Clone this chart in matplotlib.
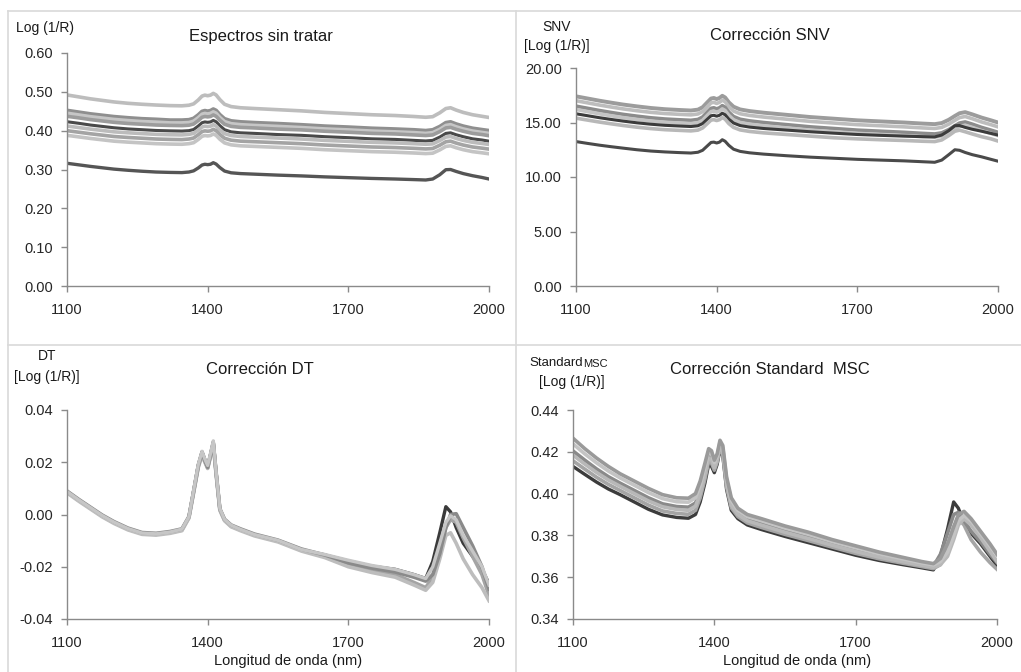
import matplotlib
matplotlib.use("Agg")
import matplotlib.pyplot as plt
from matplotlib.lines import Line2D

plt.rcParams['font.family'] = ['Liberation Sans', 'DejaVu Sans']

W, H = 1021, 672

# wavelength grid (nm)
wl = [1100, 1125, 1150, 1175, 1200, 1230, 1260, 1290, 1320, 1345,
      1360, 1370, 1380, 1388, 1394, 1400, 1406, 1412, 1418, 1426,
      1436, 1450, 1470, 1500, 1550, 1600, 1650, 1700, 1750, 1800,
      1840, 1865, 1880, 1895, 1908, 1918, 1930, 1945, 1965, 1985,
      2000]

# ---- Espectros sin tratar -------------------------------------------------
raw_1 = [.492, .487, .482, .478, .474, .4705, .468, .466, .4645, .464,
         .4655, .469, .479, .489, .4915, .490, .4915, .496, .492, .480,
         .468, .462, .459, .457, .454, .451, .447, .444, .441, .439,
         .4365, .4345, .436, .446, .457, .459, .453, .447, .441, .437,
         .434]
raw_2 = [.452, .4475, .443, .4395, .436, .433, .4305, .429, .427, .427,
         .428, .4315, .4405, .4495, .4515, .450, .4515, .4555, .452, .441,
         .4305, .425, .4225, .4205, .418, .415, .4115, .409, .406, .404,
         .402, .400, .402, .4105, .4205, .4225, .417, .4115, .406, .4025,
         .400]
raw_3 = [.445, .4405, .436, .4325, .429, .426, .4235, .422, .420, .420,
         .421, .4245, .4335, .4425, .4445, .443, .4445, .4485, .445, .434,
         .4235, .418, .4155, .4135, .411, .408, .4045, .402, .399, .397,
         .395, .393, .395, .4035, .4135, .4155, .410, .4045, .399, .3955,
         .393]
raw_4 = [.437, .433, .4285, .425, .4215, .4185, .4165, .4145, .4135, .413,
         .414, .417, .426, .4345, .4365, .4355, .4365, .4405, .437, .427,
         .4165, .411, .4085, .407, .404, .402, .3985, .396, .393, .3915,
         .389, .3875, .389, .3975, .407, .4085, .4035, .3985, .393, .390,
         .387]
raw_5 = [.423, .419, .4145, .411, .4075, .4045, .4025, .4005, .3995, .399,
         .400, .403, .412, .4205, .4225, .4215, .4225, .4265, .423, .413,
         .4025, .397, .3945, .393, .390, .388, .3845, .382, .379, .3775,
         .375, .3735, .375, .3835, .393, .3945, .3895, .3845, .379, .376,
         .373]
raw_6 = [.412, .408, .404, .4005, .397, .3945, .3925, .3905, .3895, .389,
         .3905, .393, .4015, .4095, .4115, .4105, .4115, .4155, .412, .402,
         .3925, .3875, .385, .3835, .381, .3785, .375, .3725, .370, .3685,
         .3665, .365, .366, .3745, .3835, .385, .380, .375, .370, .367,
         .3645]
raw_7 = [.400, .396, .392, .3885, .385, .3825, .3805, .3785, .3775, .377,
         .3785, .381, .3895, .3975, .3995, .3985, .3995, .4035, .400, .390,
         .3805, .3755, .373, .3715, .369, .3665, .363, .3605, .358, .3565,
         .3545, .353, .354, .3625, .3715, .373, .368, .363, .358, .355,
         .3525]
raw_8 = [.388, .384, .380, .3765, .373, .3705, .3685, .3665, .3655, .365,
         .3665, .369, .3775, .3855, .3875, .3865, .3875, .3915, .388, .378,
         .3685, .3635, .361, .3595, .357, .3545, .351, .3485, .346, .3445,
         .3425, .341, .342, .3505, .3595, .361, .356, .351, .346, .343,
         .3405]
raw_9 = [.316, .312, .308, .3045, .301, .298, .2955, .2935, .2925, .292,
         .2935, .2965, .304, .3115, .3135, .3125, .3135, .3175, .314, .305,
         .296, .2915, .2895, .288, .2855, .2835, .281, .279, .277, .2755,
         .274, .273, .2755, .2865, .2995, .300, .295, .2895, .284, .2795,
         .2755]

# ---- Correccion SNV -------------------------------------------------------
snv_1 = [17.4, 17.2, 17.0, 16.82, 16.65, 16.48, 16.33, 16.22, 16.15, 16.1,
         16.18, 16.4, 16.85, 17.2, 17.25, 17.15, 17.25, 17.45, 17.3, 16.85,
         16.45, 16.2, 16.05, 15.9, 15.7, 15.5, 15.35, 15.2, 15.1, 15.0,
         14.9, 14.85, 14.95, 15.25, 15.6, 15.85, 15.95, 15.75, 15.45, 15.2,
         15.0]
snv_2 = [17.0, 16.8, 16.6, 16.42, 16.25, 16.08, 15.93, 15.82, 15.75, 15.7,
         15.78, 16.0, 16.45, 16.8, 16.85, 16.75, 16.85, 17.05, 16.9, 16.45,
         16.05, 15.8, 15.65, 15.5, 15.3, 15.1, 14.95, 14.8, 14.7, 14.6,
         14.5, 14.45, 14.55, 14.85, 15.2, 15.45, 15.55, 15.35, 15.05, 14.8,
         14.6]
snv_3 = [16.5, 16.3, 16.1, 15.92, 15.75, 15.58, 15.43, 15.32, 15.25, 15.2,
         15.28, 15.5, 15.95, 16.3, 16.35, 16.25, 16.35, 16.55, 16.4, 15.95,
         15.55, 15.3, 15.15, 15.0, 14.8, 14.6, 14.45, 14.3, 14.2, 14.1,
         14.0, 13.95, 14.05, 14.35, 14.7, 14.95, 15.05, 14.85, 14.55, 14.3,
         14.1]
snv_4 = [16.2, 16.0, 15.8, 15.62, 15.45, 15.28, 15.13, 15.02, 14.95, 14.9,
         14.98, 15.2, 15.65, 16.0, 16.05, 15.95, 16.05, 16.25, 16.1, 15.65,
         15.25, 15.0, 14.85, 14.7, 14.5, 14.3, 14.15, 14.0, 13.9, 13.8,
         13.7, 13.65, 13.75, 14.05, 14.4, 14.65, 14.75, 14.55, 14.25, 14.0,
         13.8]
snv_5 = [15.8, 15.62, 15.44, 15.28, 15.13, 14.97, 14.84, 14.74, 14.68, 14.63,
         14.7, 14.9, 15.3, 15.62, 15.66, 15.58, 15.66, 15.85, 15.71, 15.3,
         14.95, 14.72, 14.58, 14.45, 14.3, 14.15, 14.02, 13.9, 13.82, 13.75,
         13.7, 13.68, 13.85, 14.25, 14.7, 14.72, 14.55, 14.38, 14.2, 14.0,
         13.85]
snv_6 = [15.4, 15.22, 15.04, 14.88, 14.73, 14.57, 14.44, 14.34, 14.28, 14.23,
         14.3, 14.5, 14.9, 15.22, 15.26, 15.18, 15.26, 15.45, 15.31, 14.9,
         14.55, 14.32, 14.18, 14.05, 13.9, 13.75, 13.6, 13.5, 13.42, 13.35,
         13.28, 13.25, 13.4, 13.8, 14.2, 14.3, 14.15, 13.95, 13.7, 13.5,
         13.3]
snv_7 = [13.25, 13.08, 12.92, 12.78, 12.65, 12.5, 12.38, 12.3, 12.24, 12.2,
         12.27, 12.45, 12.85, 13.17, 13.2, 13.12, 13.2, 13.42, 13.28, 12.9,
         12.55, 12.35, 12.22, 12.1, 11.95, 11.82, 11.72, 11.62, 11.55, 11.48,
         11.4, 11.35, 11.55, 12.05, 12.5, 12.45, 12.25, 12.05, 11.85, 11.62,
         11.45]

# ---- Correccion DT --------------------------------------------------------
dt_1 = [.0087, .0055, .0025, -.0005, -.0030, -.0055, -.0072, -.0075, -.0068, -.0058,
        -.0010, .0090, .0190, .0240, .0210, .0185, .0230, .0278, .0160, .0020,
        -.0020, -.0043, -.0058, -.0078, -.0100, -.0135, -.0155, -.0178, -.0198, -.0210,
        -.0230, -.0245, -.0180, -.0070, .0030, .0010, -.0050, -.0110, -.0160, -.0210,
        -.0265]
dt_2 = [.0090, .0058, .0028, -.0002, -.0027, -.0052, -.0069, -.0072, -.0065, -.0055,
        -.0008, .0088, .0186, .0236, .0206, .0180, .0226, .0274, .0162, .0022,
        -.0018, -.0040, -.0055, -.0075, -.0098, -.0132, -.0155, -.0185, -.0205, -.0220,
        -.0240, -.0255, -.0230, -.0150, -.0050, .0000, .0003, -.0050, -.0120, -.0200,
        -.0285]
dt_3 = [.0083, .0051, .0021, -.0009, -.0034, -.0059, -.0076, -.0079, -.0072, -.0062,
        -.0014, .0082, .0180, .0226, .0200, .0176, .0220, .0266, .0154, .0016,
        -.0024, -.0047, -.0062, -.0082, -.0105, -.0140, -.0165, -.0200, -.0222, -.0240,
        -.0270, -.0290, -.0260, -.0170, -.0080, -.0070, -.0110, -.0170, -.0230, -.0280,
        -.0330]
dt_4 = [.0086, .0054, .0024, -.0006, -.0031, -.0056, -.0073, -.0076, -.0069, -.0060,
        -.0012, .0086, .0184, .0232, .0203, .0178, .0224, .0270, .0157, .0018,
        -.0022, -.0045, -.0059, -.0079, -.0102, -.0137, -.0160, -.0192, -.0212, -.0230,
        -.0260, -.0280, -.0240, -.0140, -.0050, -.0020, -.0030, -.0090, -.0160, -.0230,
        -.0310]
dt_5 = [.0088, .0056, .0026, -.0004, -.0029, -.0054, -.0071, -.0074, -.0067, -.0056,
        -.0009, .0092, .0192, .0242, .0212, .0188, .0233, .0282, .0163, .0023,
        -.0019, -.0041, -.0057, -.0077, -.0099, -.0134, -.0153, -.0175, -.0195, -.0210,
        -.0230, -.0245, -.0200, -.0110, -.0030, -.0005, -.0020, -.0080, -.0140, -.0200,
        -.0270]

# ---- Correccion Standard MSC ----------------------------------------------
msc_1 = [.4265, .4215, .417, .413, .4095, .406, .4025, .3995, .398, .3978,
         .400, .406, .4145, .4215, .4205, .416, .419, .4255, .423, .408,
         .398, .393, .390, .388, .3845, .3815, .378, .375, .372, .3695,
         .3675, .3665, .369, .376, .384, .390, .3915, .388, .382, .376,
         .371]
msc_2 = [.4238, .4190, .4147, .4108, .4075, .404, .4005, .3976, .3961, .3959,
         .398, .404, .4126, .4200, .4190, .4148, .418, .4246, .422, .4068,
         .3968, .392, .389, .3870, .3835, .3805, .3771, .3741, .3712, .3688,
         .3669, .3659, .3675, .372, .380, .387, .3895, .387, .381, .375,
         .3705]
msc_3 = [.4204, .4160, .4118, .4081, .4050, .4015, .3980, .3951, .3938, .3935,
         .3955, .4015, .4102, .4181, .4171, .4133, .4168, .4235, .4208, .4053,
         .3953, .3908, .3878, .3857, .3823, .3793, .3760, .3730, .3702, .3679,
         .3662, .3652, .371, .381, .390, .391, .387, .382, .377, .371,
         .367]
msc_4 = [.413, .4092, .4055, .4022, .3995, .396, .3925, .3898, .3886, .3882,
         .390, .396, .405, .414, .413, .410, .414, .421, .418, .402,
         .392, .388, .385, .3828, .3795, .3765, .3735, .3705, .368, .366,
         .3645, .3635, .370, .383, .396, .393, .386, .381, .376, .370,
         .3655]
msc_5 = [.4184, .4141, .4101, .4065, .4035, .400, .3965, .3937, .3924, .3920,
         .394, .400, .4088, .417, .416, .4124, .416, .4228, .420, .4044,
         .3944, .390, .387, .3849, .3815, .3785, .3753, .3723, .3696, .3674,
         .3657, .3647, .366, .370, .378, .385, .388, .385, .379, .3725,
         .3675]
msc_6 = [.4157, .4117, .4078, .4044, .4015, .398, .3945, .3917, .3905, .3901,
         .392, .398, .4069, .4155, .4145, .4112, .415, .4219, .419, .4032,
         .3932, .389, .386, .3838, .3805, .3775, .3744, .3714, .3688, .3667,
         .3651, .3641, .366, .374, .384, .388, .385, .378, .372, .367,
         .3638]

xticks = [1100, 1400, 1700, 2000]


def px(x0, y0, x1, y1):
    # axes rect from pixel corners (top-left origin)
    return [x0 / W, 1 - y1 / H, (x1 - x0) / W, (y1 - y0) / H]


def style(ax, ylim, yticks, fmt):
    ax.set_xlim(1100, 2000)
    ax.set_ylim(*ylim)
    ax.set_xticks(xticks)
    ax.set_yticks(yticks)
    ax.set_yticklabels([fmt % v for v in yticks])
    for s in ['top', 'right']:
        ax.spines[s].set_visible(False)
    for s in ['left', 'bottom']:
        ax.spines[s].set_color('#8a8a8a')
        ax.spines[s].set_linewidth(1.0)
    ax.tick_params(axis='both', colors='#8a8a8a', labelcolor='#262626',
                   labelsize=10.5, length=4, width=1, direction='out')
    ax.tick_params(axis='x', pad=8)
    ax.tick_params(axis='y', pad=6)


def ftext(x, y, s, **kw):
    fig.text(x / W, 1 - y / H, s, color='#1a1a1a', **kw)


fig = plt.figure(figsize=(W / 100, H / 100), dpi=100)

# panel frames
for (xa, ya, xb, yb) in [(8, 11, W, 11), (8, 11, 8, H), (8, 345, W, 345),
                         (516, 11, 516, H)]:
    fig.add_artist(Line2D([xa / W, xb / W], [1 - ya / H, 1 - yb / H],
                          color='#d9d9d9', lw=1.2))

ax1 = fig.add_axes(px(67, 53, 489, 286))
raw = [(raw_1, '#bdbdbd', 2.6), (raw_2, '#8f8f8f', 2.8), (raw_3, '#c6c6c6', 2.6),
       (raw_4, '#9c9c9c', 2.6), (raw_5, '#4a4a4a', 2.2), (raw_6, '#bcbcbc', 2.6),
       (raw_7, '#a4a4a4', 2.6), (raw_8, '#c4c4c4', 2.6), (raw_9, '#555555', 2.4)]
for y, c, lw in raw:
    ax1.plot(wl, y, color=c, lw=lw)
style(ax1, (0, 0.6), [0, .1, .2, .3, .4, .5, .6], '%.2f')

ax2 = fig.add_axes(px(576, 68, 998, 286))
snv = [(snv_1, '#9c9c9c', 2.8), (snv_2, '#bdbdbd', 2.6), (snv_3, '#8c8c8c', 2.6),
       (snv_4, '#c4c4c4', 2.6), (snv_5, '#3c3c3c', 2.2), (snv_6, '#b8b8b8', 2.6),
       (snv_7, '#4a4a4a', 2.2)]
for y, c, lw in snv:
    ax2.plot(wl, y, color=c, lw=lw)
style(ax2, (0, 20), [0, 5, 10, 15, 20], '%.2f')

ax3 = fig.add_axes(px(67, 410, 489, 619))
dt = [(dt_1, '#3a3a3a', 2.4), (dt_4, '#a4a4a4', 2.6), (dt_3, '#bdbdbd', 2.6),
      (dt_2, '#8a8a8a', 2.6), (dt_5, '#c6c6c6', 2.4)]
for y, c, lw in dt:
    ax3.plot(wl, y, color=c, lw=lw)
style(ax3, (-0.04, 0.04), [-.04, -.02, 0, .02, .04], '%.2f')

ax4 = fig.add_axes(px(573, 410, 997, 619))
msc = [(msc_4, '#3c3c3c', 2.4), (msc_6, '#a5a5a5', 2.6), (msc_3, '#8a8a8a', 2.6),
       (msc_5, '#b8b8b8', 2.6), (msc_2, '#c4c4c4', 2.6), (msc_1, '#9a9a9a', 2.6)]
for y, c, lw in msc:
    ax4.plot(wl, y, color=c, lw=lw)
style(ax4, (0.34, 0.44), [.34, .36, .38, .40, .42, .44], '%.2f')

# titles and axis labels
ftext(261, 36, 'Espectros sin tratar', fontsize=12, ha='center', va='center')
ftext(45, 28, 'Log (1/R)', fontsize=10, ha='center', va='center')

ftext(770, 35, 'Corrección SNV', fontsize=12, ha='center', va='center')
ftext(557, 27, 'SNV', fontsize=10, ha='center', va='center')
ftext(557, 46, '[Log (1/R)]', fontsize=10, ha='center', va='center')

ftext(260, 370, 'Corrección DT', fontsize=12, ha='center', va='center')
ftext(47, 356, 'DT', fontsize=10, ha='center', va='center')
ftext(47, 377, '[Log (1/R)]', fontsize=10, ha='center', va='center')

ftext(770, 369, 'Corrección Standard  MSC', fontsize=12, ha='center', va='center')
ftext(529, 363, 'Standard', fontsize=9.5, ha='left', va='center')
ftext(583, 364, 'MSC', fontsize=8, ha='left', va='center')
ftext(572, 382, '[Log (1/R)]', fontsize=10, ha='center', va='center')

ftext(288, 661, 'Longitud de onda (nm)', fontsize=10.5, ha='center', va='center')
ftext(797, 661, 'Longitud de onda (nm)', fontsize=10.5, ha='center', va='center')

fig.savefig('out.png', dpi=100, facecolor='white')
